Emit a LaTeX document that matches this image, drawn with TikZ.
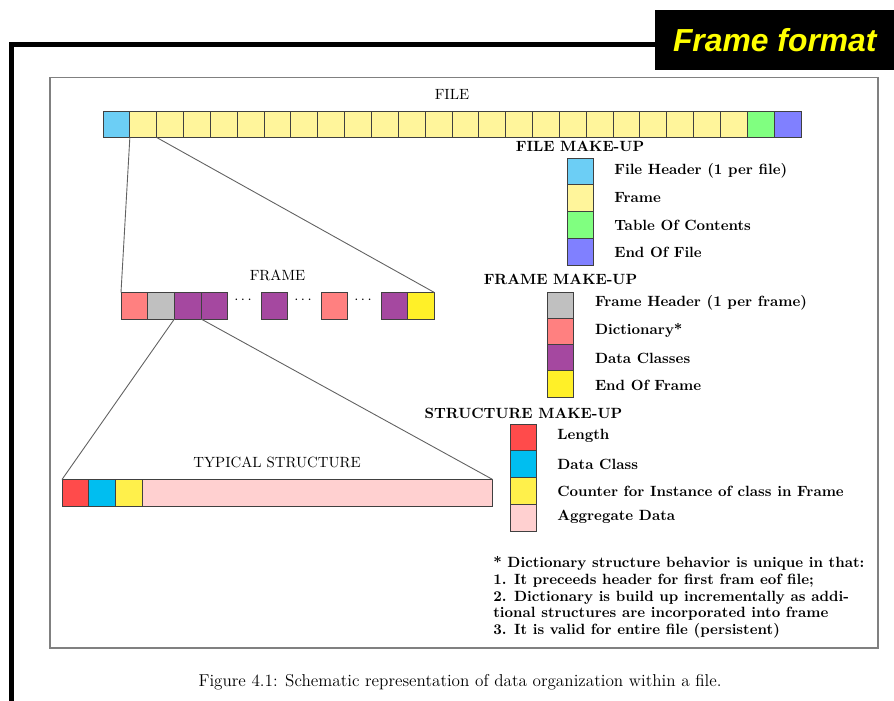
\documentclass[tikz,border=0pt]{standalone}
\usepackage{fontspec}
\newfontfamily\titlefont{Liberation Sans}
\definecolor{fhdr}{RGB}{108,206,245}
\definecolor{ffrm}{RGB}{255,245,155}
\definecolor{ftoc}{RGB}{128,255,128}
\definecolor{feof}{RGB}{128,128,255}
\definecolor{frpink}{RGB}{255,128,128}
\definecolor{frgray}{RGB}{192,192,192}
\definecolor{frpurp}{RGB}{165,72,160}
\definecolor{fryel}{RGB}{255,240,40}
\definecolor{sred}{RGB}{255,75,75}
\definecolor{sblue}{RGB}{0,190,240}
\definecolor{syel}{RGB}{255,240,75}
\definecolor{spink}{RGB}{255,208,208}
\definecolor{ttlyel}{RGB}{255,255,0}
\newcommand\pxu{0.675pt}
\tikzset{
  cell/.style={draw=black!75, line width=0.6pt, anchor=north west, inner sep=0pt, outer sep=0pt, minimum height=26.5*\pxu},
  fcell/.style={cell, minimum width=26.846*\pxu},
  rcell/.style={cell, minimum width=26.7*\pxu},
  lgsq/.style={cell, minimum width=26*\pxu},
  link/.style={draw=black!62, line width=0.6pt},
  lbl/.style={inner sep=0pt, font=\normalsize},
  lgtitle/.style={inner sep=0pt, font=\bfseries},
  lgtext/.style={inner sep=0pt, anchor=west, font=\bfseries},
  note/.style={inner sep=0pt, anchor=base west, font=\bfseries},
}
\begin{document}
\begin{tikzpicture}[x=0.675pt,y=-0.675pt]
\useasboundingbox (0,0) rectangle (894,700);
% outer decoration
\draw[line width=5*\pxu, line join=miter] (11.5,705) -- (11.5,44.2) -- (660,44.2);
\node[fill=black, minimum width=239*\pxu, minimum height=60*\pxu, inner sep=0pt, anchor=north west,
      text=ttlyel, font=\titlefont\fontsize{21.5}{24}\selectfont\bfseries\itshape] (title) at (655,10) {Frame format};
% figure box
\draw[draw=black!50, line width=0.8pt] (50,77.5) rectangle (878,648);
% FILE row
\node[lbl] (filelbl) at (452,94) {FILE};
\foreach \i in {0,...,25}{
  \pgfmathsetmacro\xx{103+\i*26.846}
  \ifnum\i=0 \def\cc{fhdr}\else\ifnum\i=24 \def\cc{ftoc}\else\ifnum\i=25 \def\cc{feof}\else\def\cc{ffrm}\fi\fi\fi
  \node[fcell, fill=\cc] (f\i) at (\xx,111) {};
}
% FRAME row
\node[lbl] (framelbl) at (277.5,275) {FRAME};
\node[rcell, fill=frpink] (r1) at (121,292.5) {};
\node[rcell, fill=frgray] (r2) at (147.7,292.5) {};
\node[rcell, fill=frpurp] (r3) at (174.4,292.5) {};
\node[rcell, fill=frpurp] (r4) at (201.1,292.5) {};
\node[inner sep=0pt] (d1) at (243,300) {$\cdots$};
\node[rcell, fill=frpurp] (r5) at (261,292.5) {};
\node[inner sep=0pt] (d2) at (303,300) {$\cdots$};
\node[rcell, fill=frpink] (r6) at (321,292.5) {};
\node[inner sep=0pt] (d3) at (363,300) {$\cdots$};
\node[rcell, fill=frpurp] (r7) at (381,292.5) {};
\node[rcell, fill=fryel] (r8) at (407.7,292.5) {};
% STRUCTURE row
\node[lbl] (structlbl) at (277,462) {TYPICAL STRUCTURE};
\node[rcell, fill=sred] (s1) at (62,479.5) {};
\node[rcell, fill=sblue] (s2) at (88.7,479.5) {};
\node[rcell, fill=syel] (s3) at (115.4,479.5) {};
\node[cell, fill=spink, minimum width=350.6*\pxu] (s4) at (142.1,479.5) {};
% zoom connectors
\draw[link] (f1.south west) -- (r1.north west);
\draw[link] (f1.south east) -- (r8.north east);
\draw[link] (r3.south west) -- (s1.north west);
\draw[link] (r3.south east) -- (s4.north east);
% FILE MAKE-UP legend
\node[lgtitle] (flg) at (580,146) {FILE MAKE-UP};
\node[lgsq, fill=fhdr, minimum height=26.75*\pxu] (fl1) at (567.7,158) {};
\node[lgsq, fill=ffrm, minimum height=26.75*\pxu] (fl2) at (567.7,184.75) {};
\node[lgsq, fill=ftoc, minimum height=26.75*\pxu] (fl3) at (567.7,211.5) {};
\node[lgsq, fill=feof, minimum height=26.75*\pxu] (fl4) at (567.7,238.25) {};
\node[lgtext] (flt1) at (614,171) {File Header (1 per file)};
\node[lgtext] (flt2) at (614,198) {Frame};
\node[lgtext] (flt3) at (614,225) {Table Of Contents};
\node[lgtext] (flt4) at (614,252) {End Of File};
% FRAME MAKE-UP legend
\node[lgtitle] (rlg) at (560.5,279) {FRAME MAKE-UP};
\node[lgsq, fill=frgray, minimum height=26.25*\pxu] (rl1) at (547.7,292) {};
\node[lgsq, fill=frpink, minimum height=26.25*\pxu] (rl2) at (547.7,318.25) {};
\node[lgsq, fill=frpurp, minimum height=26.25*\pxu] (rl3) at (547.7,344.5) {};
\node[lgsq, fill=fryel, minimum height=26.25*\pxu] (rl4) at (547.7,370.75) {};
\node[lgtext] (rlt1) at (594.7,303) {Frame Header (1 per frame)};
\node[lgtext] (rlt2) at (594.7,330) {Dictionary*};
\node[lgtext] (rlt3) at (594.7,358) {Data Classes};
\node[lgtext] (rlt4) at (594.7,385) {End Of Frame};
% STRUCTURE MAKE-UP legend
\node[lgtitle] (slg) at (523.5,413) {STRUCTURE MAKE-UP};
\node[lgsq, fill=sred, minimum height=26.75*\pxu] (sl1) at (510,424) {};
\node[lgsq, fill=sblue, minimum height=26.75*\pxu] (sl2) at (510,450.75) {};
\node[lgsq, fill=syel, minimum height=26.75*\pxu] (sl3) at (510,477.5) {};
\node[lgsq, fill=spink, minimum height=26.75*\pxu] (sl4) at (510,504.25) {};
\node[lgtext] (slt1) at (557,436) {Length};
\node[lgtext] (slt2) at (557,464) {Data Class};
\node[lgtext] (slt3) at (557,491) {Counter for Instance of class in Frame};
\node[lgtext] (slt4) at (557,517) {Aggregate Data};
% notes
\node[note] (n1) at (493,567) {* Dictionary structure behavior is unique in that:};
\node[note] (n2) at (493,584) {1. It preceeds header for first fram eof file;};
\node[note] (n3) at (493,601) {2. Dictionary is build up incrementally as addi-};
\node[note] (n4) at (493,617.5) {tional structures are incorporated into frame};
\node[note] (n5) at (493,634) {3. It is valid for entire file (persistent)};
% caption
\node[inner sep=0pt, font=\fontsize{11.6}{14}\selectfont] (caption) at (460,682) {Figure 4.1: Schematic representation of data organization within a file.};
\end{tikzpicture}
\end{document}
